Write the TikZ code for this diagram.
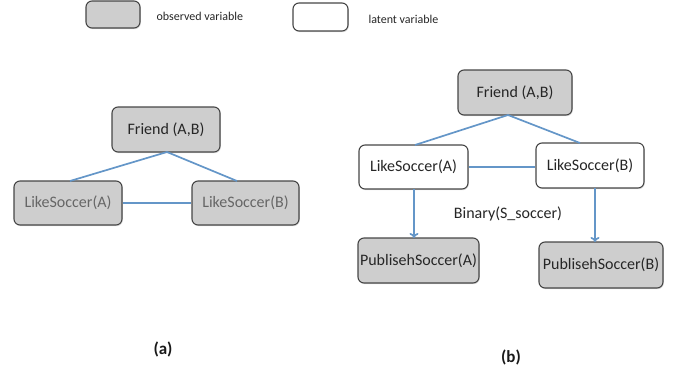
\documentclass[tikz,border=0pt]{standalone}
\usepackage{fontspec}
\setmainfont{Carlito}
\usetikzlibrary{arrows.meta,shadows}
\definecolor{edge}{RGB}{100,150,200}
\definecolor{obsfill}{RGB}{206,206,206}
\definecolor{boxline}{RGB}{70,70,70}
\tikzset{
  vbox/.style={draw=boxline, line width=1.1pt, rounded corners=6pt, inner sep=0pt,
    font=\fontsize{16}{18}\selectfont, text=black!85,
    drop shadow={opacity=0.25, shadow xshift=0.8pt, shadow yshift=-1.2pt}},
  obs/.style={vbox, fill=obsfill},
  lat/.style={vbox, fill=white},
  conn/.style={draw=edge, line width=1.7pt},
  arr/.style={conn, -{To[length=5pt,width=9pt]}},
  legtext/.style={font=\fontsize{12}{14}\selectfont, text=black!85, anchor=west},
  captext/.style={font=\bfseries\fontsize{17}{19}\selectfont, text=black!90}
}
\begin{document}
\begin{tikzpicture}[x=1pt,y=-1pt]
\useasboundingbox (0,0) rectangle (683,375);
% legend
\node[obs, minimum width=54pt, minimum height=27pt] (legobs) at (113,14.5) {};
\node[legtext] (legobst) at (153,16) {observed variable};
\node[lat, minimum width=55pt, minimum height=28pt] (leglat) at (320.5,17) {};
\node[legtext] (leglatt) at (365,19) {latent variable};
% panel (a)
\node[obs, minimum width=108pt, minimum height=45pt] (fa) at (166,129.5) {Friend (A,B)};
\node[obs, minimum width=108pt, minimum height=44pt, text=black!60] (la) at (68,203) {LikeSoccer(A)};
\node[obs, minimum width=107pt, minimum height=44pt, text=black!60] (lb) at (245.5,203) {LikeSoccer(B)};
\coordinate (fab) at (167,152);
\coordinate (lat) at (70,181);
\coordinate (lbt) at (237,181);
\draw[conn] (lat) -- (fab) -- (lbt);
\draw[conn] (la.east) -- (la.east -| lb.west);
\node[captext] (capa) at (163,349) {(a)};
% panel (b)
\node[obs, minimum width=114pt, minimum height=45pt] (fb) at (515,92.5) {Friend (A,B)};
\node[lat, minimum width=109pt, minimum height=44pt] (lba) at (413.5,167) {LikeSoccer(A)};
\node[lat, minimum width=108pt, minimum height=45pt] (lbb) at (590,165.5) {LikeSoccer(B)};
\node[obs, minimum width=121pt, minimum height=45pt] (pa) at (418.5,260.5) {PublisehSoccer(A)};
\node[obs, minimum width=124pt, minimum height=46pt] (pb) at (601,265) {PublisehSoccer(B)};
\coordinate (fbb) at (508,115);
\coordinate (lbat) at (415,145);
\coordinate (lbbt) at (580,143);
\draw[conn] (lbat) -- (fbb) -- (lbbt);
\draw[conn] (lba.east) -- (lba.east -| lbb.west);
\coordinate (lbas) at (414,189);
\coordinate (pat) at (414,238);
\draw[arr] (lbas) -- (pat);
\coordinate (lbbs) at (595,188);
\coordinate (pbt) at (595,242);
\draw[arr] (lbbs) -- (pbt);
\node[font=\fontsize{16}{18}\selectfont, text=black!85] (bin) at (508,214) {Binary(S\_soccer)};
\node[captext] (capb) at (511,357) {(b)};
\end{tikzpicture}
\end{document}
